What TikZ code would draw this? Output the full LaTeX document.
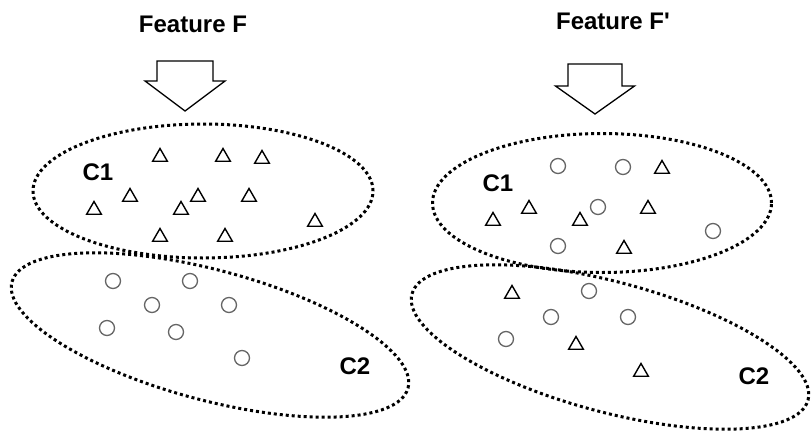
\documentclass[tikz,border=0pt]{standalone}
\usepackage{fontspec}
\setmainfont{Liberation Sans}
\usetikzlibrary{shapes.geometric}

\begin{document}
\begin{tikzpicture}[x=1pt, y=-1pt,
    title/.style = {font=\bfseries\fontsize{24}{28}\selectfont, inner sep=0pt},
    cluster/.style = {draw, ellipse, inner sep=0pt, line width=3pt, dash pattern=on 3pt off 3pt},
    tri/.style = {draw, regular polygon, regular polygon sides=3, minimum size=17pt, inner sep=0pt, line width=1.4pt},
    ring/.style = {draw=black!60, circle, minimum size=15pt, inner sep=0pt, line width=1.3pt},
    block/.style = {draw, line width=1.3pt, line join=miter}]
    \useasboundingbox (0,0) rectangle (811,431);

    % titles
    \node[title] (fl) at (193,24) {Feature F};
    \node[title] (fr) at (613,21) {Feature F\textquotesingle};

    % block arrows
    \coordinate (tl) at (185,111);
    \coordinate (tr) at (595,114);
    \draw[block] (tl) -- ++(40,-30) -- ++(-12,0) -- ++(0,-20) -- ++(-56,0) -- ++(0,20) -- ++(-12,0) -- cycle;
    \draw[block] (tr) -- ++(39.5,-28) -- ++(-12.5,0) -- ++(0,-22) -- ++(-54,0) -- ++(0,22) -- ++(-12.5,0) -- cycle;

    % clusters
    \node[cluster, minimum width=340pt, minimum height=134pt] (c1l) at (203,191) {};
    \node[cluster, minimum width=410pt, minimum height=130pt, rotate=-15] (c2l) at (210,335) {};
    \node[cluster, minimum width=339pt, minimum height=139pt] (c1r) at (602,203) {};
    \node[cluster, minimum width=410pt, minimum height=130pt, rotate=-15] (c2r) at (610,347) {};

    \node[title] (l1l) at (98,172) {C1};
    \node[title] (l2l) at (355,366) {C2};
    \node[title] (l1r) at (498,183) {C1};
    \node[title] (l2r) at (754,376) {C2};

    % feature F, cluster 1
    \node[tri] (a1) at (160,157) {};
    \node[tri] (a2) at (223,157) {};
    \node[tri] (a3) at (262,159) {};
    \node[tri] (a4) at (130,197) {};
    \node[tri] (a5) at (198,197) {};
    \node[tri] (a6) at (249,197) {};
    \node[tri] (a7) at (94,210) {};
    \node[tri] (a8) at (181,210) {};
    \node[tri] (a9) at (315,222) {};
    \node[tri] (a10) at (160,237) {};
    \node[tri] (a11) at (225,237) {};

    % feature F, cluster 2
    \node[ring] (b1) at (113,281) {};
    \node[ring] (b2) at (190,281) {};
    \node[ring] (b3) at (152,305) {};
    \node[ring] (b4) at (229,305) {};
    \node[ring] (b5) at (107,328) {};
    \node[ring] (b6) at (176,332) {};
    \node[ring] (b7) at (242,358) {};

    % feature F', cluster 1
    \node[ring] (p1) at (558,166) {};
    \node[ring] (p2) at (623,167) {};
    \node[ring] (p3) at (598,207) {};
    \node[ring] (p4) at (713,231) {};
    \node[ring] (p5) at (558,246) {};
    \node[tri] (p6) at (662,169) {};
    \node[tri] (p7) at (529,209) {};
    \node[tri] (p8) at (648,209) {};
    \node[tri] (p9) at (493,221) {};
    \node[tri] (p10) at (580,221) {};
    \node[tri] (p11) at (624,249) {};

    % feature F', cluster 2
    \node[tri] (q1) at (512,294) {};
    \node[ring] (q2) at (589,291) {};
    \node[ring] (q3) at (551,317) {};
    \node[ring] (q4) at (628,317) {};
    \node[ring] (q5) at (506,339) {};
    \node[tri] (q6) at (576,345) {};
    \node[tri] (q7) at (641,372) {};
\end{tikzpicture}
\end{document}
